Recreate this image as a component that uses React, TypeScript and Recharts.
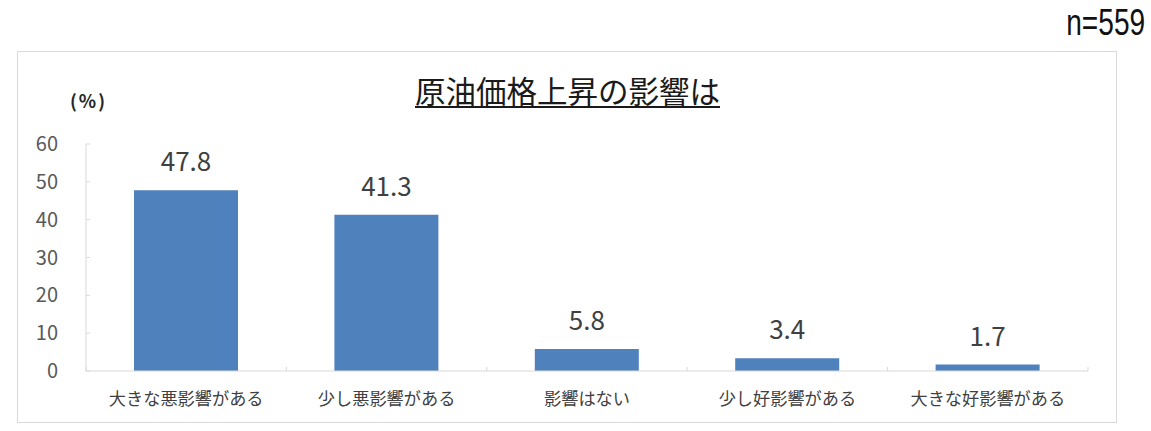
import { Bar, BarChart, LabelList, XAxis, YAxis } from 'recharts'

// 原油価格上昇の影響は (n=559)
const categories = ['大きな悪影響がある', '少し悪影響がある', '影響はない', '少し好影響がある', '大きな好影響がある']
const shares = [47.8, 41.3, 5.8, 3.4, 1.7]
const yTicks = [0, 10, 20, 30, 40, 50, 60]

const W = 1151
const H = 431
const M = { top: 144, right: 63, left: 0, bottom: 0 }
const Y_AXIS_W = 86
const X_AXIS_H = 60
const PLOT_W = W - M.left - M.right - Y_AXIS_W

const JP = '"Noto Sans CJK JP", "Noto Sans", sans-serif'
const GRID = '#d9d9d9'

const data = categories.map((name, i) => ({ name, value: shares[i] }))

// category ticks: label in the middle, small inward mark at the band edges
function CatTick(props: any) {
  const { x, y, payload, index } = props
  const step = PLOT_W / categories.length
  const left = x - step / 2
  return (
    <g>
      <line x1={left} x2={left} y1={y} y2={y - 4} stroke={GRID} />
      {index === categories.length - 1 && (
        <line x1={x + step / 2} x2={x + step / 2} y1={y} y2={y - 4} stroke={GRID} />
      )}
      <text x={x} y={y + 26} textAnchor="middle" dominantBaseline="central" fill="#404040" fontSize={17.2} fontFamily={JP}>
        {payload.value}
      </text>
    </g>
  )
}

export default function App() {
  return (
    <div style={{ position: 'absolute', left: 0, top: 0, width: W, height: H, background: '#fff' }}>
      <div style={{ position: 'absolute', left: 17, top: 51, width: 1100, height: 372, border: `1px solid ${GRID}`, boxSizing: 'border-box' }} />
      <div style={{ position: 'absolute', right: 6, top: 3, fontFamily: '"Liberation Sans", sans-serif', fontSize: 36, color: '#111', lineHeight: '40px', transform: 'scaleX(0.78)', transformOrigin: 'right center' }}>
        n=559
      </div>
      <div style={{ position: 'absolute', left: 0, width: 1135, top: 70, textAlign: 'center', fontFamily: JP, fontSize: 30.5, color: '#1a1a1a', lineHeight: '40px', textDecoration: 'underline', textDecorationThickness: 2, textUnderlineOffset: 3 }}>
        原油価格上昇の影響は
      </div>
      <div style={{ position: 'absolute', left: 70, top: 88, fontFamily: JP, fontSize: 18, fontWeight: 700, color: '#262626', lineHeight: '24px', letterSpacing: 2 }}>
        (%)
      </div>
      <div style={{ position: 'absolute', left: 0, top: 0 }}>
        <BarChart width={W} height={H} data={data} margin={M}>
          <YAxis
            width={Y_AXIS_W}
            domain={[0, 60]}
            ticks={yTicks}
            interval={0}
            tickSize={-4}
            tickMargin={32}
            axisLine={{ stroke: GRID }}
            tickLine={{ stroke: GRID }}
            tick={{ fill: '#595959', fontSize: 20, fontFamily: JP }}
          />
          <XAxis
            dataKey="name"
            height={X_AXIS_H}
            interval={0}
            tickSize={0}
            tickMargin={0}
            axisLine={{ stroke: GRID }}
            tickLine={false}
            tick={<CatTick />}
          />
          <Bar dataKey="value" fill="#4f81bd" barSize={104} isAnimationActive={false}>
            <LabelList dataKey="value" position="top" offset={19} fill="#404040" fontSize={26} fontFamily={JP} formatter={(v: any) => Number(v).toFixed(1)} />
          </Bar>
        </BarChart>
      </div>
    </div>
  )
}
